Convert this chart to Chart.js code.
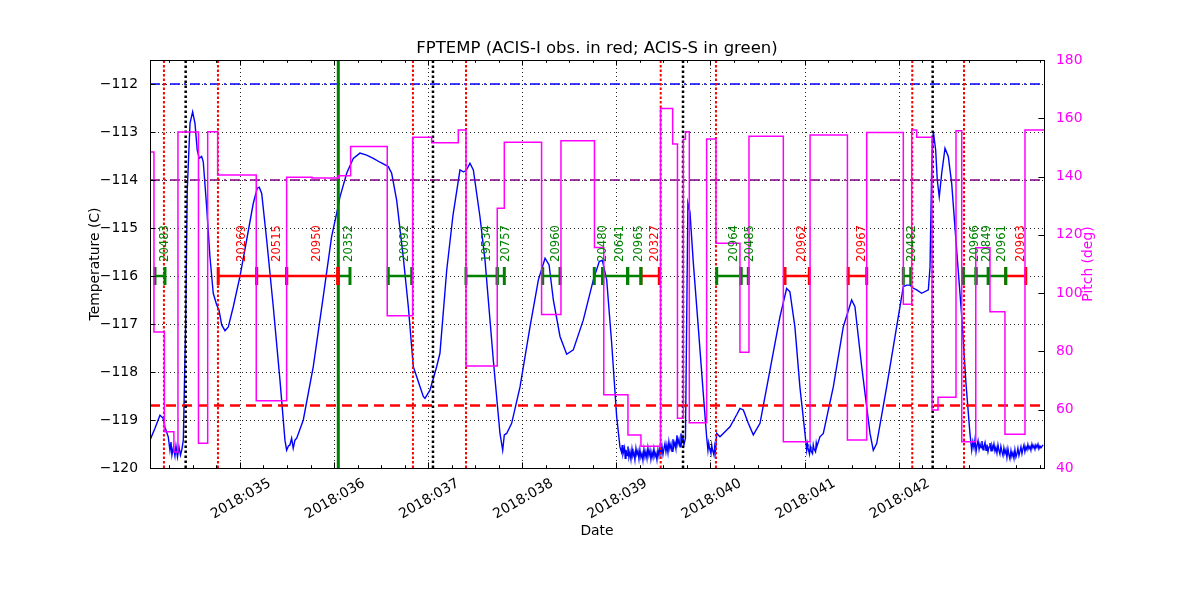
<!DOCTYPE html>
<html><head><meta charset="utf-8">
<script src="https://cdn.jsdelivr.net/npm/chart.js@4.4.1/dist/chart.umd.min.js"></script>
<style>html,body{margin:0;padding:0;background:#fff;}canvas{display:block;}</style>
</head><body>
<canvas id="c" width="1200" height="600"></canvas>
<script>
// ---------------- data ----------------
const yearLabel = '2018';
const dayTicks = [35, 36, 37, 38, 39, 40, 41, 42, 43];

// FPTEMP readings: [day of year, temperature C]
const tempReadings = [
[34.044,-119.42],[34.097,-119.17],[34.150,-118.90],[34.182,-118.96],[34.203,-119.15],[34.238,-119.35],
[34.256,-119.63],[34.267,-119.46],[34.277,-119.73],[34.293,-119.56],[34.309,-119.75],[34.320,-119.54],[34.336,-119.77],[34.352,-119.56],[34.368,-119.73],[34.384,-119.60],[34.398,-119.42],
[34.423,-116.98],[34.440,-114.21],[34.469,-112.82],[34.497,-112.58],[34.522,-112.82],[34.546,-113.38],[34.567,-113.55],[34.593,-113.51],[34.610,-113.62],[34.646,-114.56],[34.681,-115.60],[34.716,-116.36],[34.752,-116.60],[34.777,-116.71],[34.806,-117.02],[34.841,-117.14],[34.876,-117.06],[34.929,-116.64],[35.000,-116.01],[35.071,-115.25],[35.141,-114.49],[35.184,-114.17],[35.205,-114.15],[35.231,-114.28],[35.284,-115.25],[35.354,-116.64],[35.425,-118.17],[35.478,-119.42],[35.496,-119.63],[35.515,-119.54],[35.531,-119.52],[35.549,-119.38],[35.566,-119.59],[35.584,-119.42],[35.603,-119.38],[35.673,-119.00],[35.779,-117.89],[35.885,-116.43],[35.974,-115.18],[36.028,-114.69],[36.063,-114.35],[36.134,-113.86],[36.204,-113.55],[36.275,-113.44],[36.346,-113.48],[36.417,-113.55],[36.488,-113.63],[36.576,-113.72],[36.612,-113.86],[36.665,-114.42],[36.735,-115.60],[36.789,-116.64],[36.842,-117.89],[36.878,-118.10],[36.948,-118.51],[36.966,-118.55],[37.019,-118.38],[37.090,-117.89],[37.125,-117.61],[37.197,-115.88],[37.264,-114.73],[37.338,-113.79],[37.373,-113.83],[37.402,-113.81],[37.444,-113.65],[37.480,-113.79],[37.550,-114.76],[37.604,-115.67],[37.692,-117.75],[37.763,-119.28],[37.792,-119.63],[37.809,-119.31],[37.834,-119.28],[37.887,-119.07],[37.976,-118.31],[38.082,-117.06],[38.171,-116.08],[38.242,-115.63],[38.285,-115.77],[38.330,-116.50],[38.401,-117.26],[38.472,-117.63],[38.542,-117.54],[38.648,-116.92],[38.755,-116.08],[38.818,-115.70],[38.850,-115.67],[38.897,-116.08],[38.950,-117.40],[39.003,-118.93],[39.038,-119.56],
[39.054,-119.67],[39.062,-119.52],[39.070,-119.71],[39.086,-119.58],[39.094,-119.80],[39.102,-119.62],[39.113,-119.74],[39.123,-119.55],[39.133,-119.78],[39.144,-119.66],[39.155,-119.82],[39.166,-119.60],[39.176,-119.75],[39.187,-119.69],[39.197,-119.83],[39.208,-119.59],[39.218,-119.72],[39.229,-119.64],[39.240,-119.81],[39.250,-119.62],[39.261,-119.78],[39.272,-119.70],[39.282,-119.84],[39.293,-119.61],[39.304,-119.77],[39.314,-119.66],[39.325,-119.80],[39.335,-119.58],[39.346,-119.74],[39.357,-119.63],[39.367,-119.82],[39.378,-119.67],[39.389,-119.78],[39.399,-119.60],[39.410,-119.76],[39.420,-119.69],[39.431,-119.83],[39.442,-119.62],[39.452,-119.74],[39.463,-119.57],[39.473,-119.71],[39.484,-119.54],[39.495,-119.72],[39.505,-119.60],[39.516,-119.49],[39.527,-119.66],[39.537,-119.52],[39.548,-119.68],[39.558,-119.45],[39.569,-119.60],[39.580,-119.50],[39.591,-119.65],[39.601,-119.40],[39.612,-119.55],[39.622,-119.47],[39.633,-119.60],[39.644,-119.32],[39.654,-119.50],[39.665,-119.40],[39.676,-119.56],[39.686,-119.28],[39.697,-119.45],[39.707,-119.35],[39.718,-119.52],[39.734,-119.38],
[39.760,-114.48],[39.782,-114.67],[39.817,-115.71],[39.870,-117.06],[39.923,-118.44],[39.959,-119.35],
[39.973,-119.63],[39.981,-119.48],[39.989,-119.58],[40.005,-119.70],[40.013,-119.52],[40.021,-119.62],[40.037,-119.73],[40.045,-119.55],[40.053,-119.66],
[40.066,-119.28],[40.101,-119.35],[40.207,-119.14],[40.281,-118.88],[40.313,-118.76],[40.349,-118.79],[40.402,-119.07],[40.455,-119.31],[40.526,-119.07],[40.632,-117.96],[40.738,-116.85],[40.809,-116.26],[40.844,-116.33],[40.897,-117.06],[40.950,-118.31],[41.004,-119.28],
[41.022,-119.63],[41.030,-119.50],[41.036,-119.58],[41.052,-119.71],[41.060,-119.55],[41.068,-119.64],[41.084,-119.70],[41.092,-119.52],[41.100,-119.60],[41.116,-119.66],[41.124,-119.48],[41.131,-119.55],
[41.163,-119.35],[41.199,-119.28],[41.305,-118.31],[41.411,-117.06],[41.500,-116.50],[41.535,-116.64],[41.607,-117.89],[41.695,-119.28],[41.730,-119.63],[41.766,-119.49],[41.872,-118.31],[41.978,-117.06],[42.049,-116.22],[42.085,-116.19],[42.120,-116.19],[42.152,-116.25],[42.191,-116.29],[42.244,-116.36],[42.315,-116.29],[42.333,-115.81],[42.351,-113.72],[42.368,-112.99],[42.393,-113.38],[42.410,-114.00],[42.431,-114.35],[42.457,-113.86],[42.492,-113.34],[42.527,-113.51],[42.563,-114.07],[42.616,-115.46],[42.670,-116.85],[42.715,-118.24],[42.757,-119.28],
[42.776,-119.63],[42.788,-119.45],[42.800,-119.58],[42.811,-119.40],[42.822,-119.66],[42.833,-119.52],[42.843,-119.43],[42.854,-119.61],[42.864,-119.50],[42.875,-119.58],[42.885,-119.44],[42.896,-119.62],[42.906,-119.55],[42.917,-119.47],[42.928,-119.63],[42.938,-119.51],[42.949,-119.66],[42.960,-119.56],[42.970,-119.48],[42.981,-119.64],[42.991,-119.53],[43.002,-119.60],[43.012,-119.50],[43.023,-119.65],[43.033,-119.57],[43.044,-119.69],[43.055,-119.52],[43.065,-119.63],[43.076,-119.71],[43.086,-119.55],[43.097,-119.66],[43.108,-119.74],[43.118,-119.58],[43.129,-119.70],[43.140,-119.62],[43.150,-119.78],[43.161,-119.60],[43.172,-119.73],[43.182,-119.81],[43.193,-119.64],[43.203,-119.76],[43.214,-119.68],[43.225,-119.80],[43.235,-119.62],[43.246,-119.77],[43.257,-119.70],[43.267,-119.59],[43.278,-119.74],[43.288,-119.66],[43.299,-119.56],[43.310,-119.70],[43.320,-119.60],[43.331,-119.52],[43.341,-119.66],[43.352,-119.56],[43.363,-119.62],[43.373,-119.51],[43.384,-119.60],[43.395,-119.55],[43.405,-119.63],[43.416,-119.50],[43.427,-119.58],[43.437,-119.53],[43.448,-119.61],[43.458,-119.52],[43.469,-119.57],[43.480,-119.50],[43.490,-119.60],[43.501,-119.54],[43.512,-119.58],[43.533,-119.52]
];

// Pitch (deg), step changes: [day of year, pitch]
const pitchSteps = [
[34.044,148.4],[34.086,86.7],[34.197,52.4],[34.298,45.5],[34.341,155.3],[34.559,48.5],[34.657,155.4],[34.763,140.5],[35.173,63.1],[35.496,139.8],[35.766,139.5],[36.045,140.3],[36.176,150.3],[36.565,92.2],[36.835,153.5],[37.037,151.6],[37.320,156.0],[37.402,75.0],[37.734,129.1],[37.809,151.8],[38.205,92.7],[38.411,152.3],[38.767,115.7],[38.866,65.1],[39.123,51.3],[39.261,47.5],[39.469,163.4],[39.598,151.2],[39.649,57.1],[39.711,152.8],[39.734,155.4],[39.775,55.5],[39.959,152.9],[40.058,117.1],[40.313,79.7],[40.409,153.8],[40.774,49.0],[41.058,154.3],[41.455,49.6],[41.660,155.1],[42.049,96.2],[42.138,156.0],[42.191,153.5],[42.354,59.9],[42.418,64.3],[42.609,155.7],[42.670,49.0],[42.819,115.6],[42.970,93.6],[43.129,51.6],[43.342,156.0],[43.544,156.0]
];

// Observations
const obsIds   = ['20483','20269','20515','20950','20352','20092','19534','20757','20960','20480','20641','20965','20327','20964','20485','20962','20967','20482','20966','20849','20961','20963'];
const obsStart = [34.097,34.769,35.177,35.496,36.045,36.576,37.402,37.734,38.217,38.765,38.854,39.120,39.261,40.066,40.324,40.792,41.464,42.049,42.687,42.822,42.952,43.137];
const obsStop  = [34.203,35.177,35.496,36.038,36.169,36.825,37.734,37.809,38.401,38.854,39.120,39.261,39.456,40.324,40.402,41.050,41.660,42.128,42.822,42.952,43.137,43.350];
const obsInstr = ['S','I','I','I','S','S','S','S','S','S','S','S','I','S','S','I','I','S','S','S','S','I'];
const obsLevel = -116;

// reference lines
const redDottedDays   = [34.192, 34.766, 36.838, 37.402, 39.471, 40.058, 42.144, 42.694];
const blackDottedDays = [34.423, 37.051, 39.708, 42.361];
const greenSolidDays  = [36.045];
const limitBlue   = -112;
const limitPurple = -114;
const limitRed    = -118.7;

// axis ranges
const X_MIN = 34.044, X_MAX = 43.544;
const T_MIN = -120, T_MAX = -111.5;
const P_MIN = 40, P_MAX = 180;

// ---------------- chart ----------------
const FONT = 'DejaVu Sans';
const datasets = [];

// pitch: each value holds from its day until the next change
const pitchPoints = [];
pitchSteps.forEach(([d, p], i) => {
  if (i > 0) pitchPoints.push({x: d, y: pitchSteps[i - 1][1]});
  pitchPoints.push({x: d, y: p});
});
datasets.push({
  label: 'Pitch', yAxisID: 'y1', order: 0,
  data: pitchPoints,
  borderColor: '#ff00ff', borderWidth: 1.5, pointRadius: 0, fill: false, tension: 0
});

obsIds.forEach((id, i) => {
  const c = obsInstr[i] === 'I' ? '#ff0000' : '#008000';
  datasets.push({
    label: 'obs ' + id, yAxisID: 'y', order: 1,
    data: [{x: obsStart[i], y: obsLevel}, {x: obsStop[i], y: obsLevel}],
    borderColor: c, borderWidth: 2.5,
    pointStyle: 'line', pointRadius: 9, pointHoverRadius: 9, pointBorderWidth: 3,
    pointBorderColor: c, pointBackgroundColor: c, pointRotation: 90
  });
});

greenSolidDays.forEach(d => datasets.push({
  label: 'green', yAxisID: 'y', order: 2,
  data: [{x: d, y: T_MIN}, {x: d, y: T_MAX}],
  borderColor: '#008000', borderWidth: 3, pointRadius: 0
}));
redDottedDays.forEach(d => datasets.push({
  label: 'acisI', yAxisID: 'y', order: 3,
  data: [{x: d, y: T_MIN}, {x: d, y: T_MAX}],
  borderColor: '#ff0000', borderWidth: 2, borderDash: [2.5, 2], pointRadius: 0
}));
blackDottedDays.forEach(d => datasets.push({
  label: 'black', yAxisID: 'y', order: 3,
  data: [{x: d, y: T_MIN}, {x: d, y: T_MAX}],
  borderColor: '#000000', borderWidth: 2.5, borderDash: [2.5, 2.5], pointRadius: 0
}));

[[limitBlue, '#0000ff', [10, 4, 2, 4], 1.3], [limitPurple, '#800080', [10, 4, 2, 4], 1.3], [limitRed, '#ff0000', [10, 6], 2.5]]
  .forEach(([v, c, dash, w]) => datasets.push({
    label: 'limit', yAxisID: 'y', order: 4,
    data: [{x: X_MIN, y: v}, {x: X_MAX, y: v}],
    borderColor: c, borderWidth: w, borderDash: dash, pointRadius: 0
  }));

datasets.push({
  label: 'FPTEMP', yAxisID: 'y', order: 5,
  data: tempReadings.map(([d, t]) => ({x: d, y: t})),
  borderColor: '#0000ff', borderWidth: 1.4, pointRadius: 0, tension: 0
});

const intOnly = (axis) => { axis.ticks = axis.ticks.filter(t => Math.abs(t.value - Math.round(t.value)) < 1e-9); };

const mplPlugin = {
  id: 'mpl',
  beforeDatasetsDraw(chart) {
    const {ctx, chartArea: a, scales: {x, y}} = chart;
    ctx.save();
    ctx.strokeStyle = 'rgba(0,0,0,0.85)';
    ctx.lineWidth = 1;
    ctx.setLineDash([1, 3]);
    x.ticks.forEach(t => {
      const px = Math.round(x.getPixelForValue(t.value)) + 0.5;
      ctx.beginPath(); ctx.moveTo(px, a.top); ctx.lineTo(px, a.bottom); ctx.stroke();
    });
    y.ticks.forEach(t => {
      const py = Math.round(y.getPixelForValue(t.value)) + 0.5;
      ctx.beginPath(); ctx.moveTo(a.left, py); ctx.lineTo(a.right, py); ctx.stroke();
    });
    ctx.restore();
  },
  afterDatasetsDraw(chart) {
    const {ctx, chartArea: a, scales: {x, y, y1}} = chart;
    ctx.save();
    // observation labels
    ctx.font = '11.6px "' + FONT + '"';
    obsIds.forEach((id, i) => {
      const mid = (obsStart[i] + obsStop[i]) / 2;
      const px = x.getPixelForValue(mid) + 5;
      const py = y.getPixelForValue(obsLevel) - 14;
      ctx.save();
      ctx.translate(px, py);
      ctx.rotate(-Math.PI / 2);
      ctx.textAlign = 'left';
      ctx.textBaseline = 'middle';
      ctx.fillStyle = obsInstr[i] === 'I' ? '#ff0000' : '#008000';
      ctx.fillText(id, 0, 0);
      ctx.restore();
    });
    // frame
    ctx.setLineDash([]);
    ctx.strokeStyle = '#000';
    ctx.lineWidth = 1;
    ctx.strokeRect(Math.round(a.left) + 0.5, Math.round(a.top) + 0.5, Math.round(a.width), Math.round(a.height));
    // inward ticks
    const major = 5.6, minor = 2.8;
    ctx.beginPath();
    y.ticks.forEach(t => {
      const py = Math.round(y.getPixelForValue(t.value)) + 0.5;
      ctx.moveTo(a.left, py); ctx.lineTo(a.left + major, py);
    });
    y1.ticks.forEach(t => {
      const py = Math.round(y1.getPixelForValue(t.value)) + 0.5;
      ctx.moveTo(a.right, py); ctx.lineTo(a.right - major, py);
    });
    x.ticks.forEach(t => {
      const px = Math.round(x.getPixelForValue(t.value)) + 0.5;
      ctx.moveTo(px, a.bottom); ctx.lineTo(px, a.bottom - major);
      ctx.moveTo(px, a.top); ctx.lineTo(px, a.top + major);
    });
    for (let q = Math.ceil(X_MIN * 4); q <= Math.floor(X_MAX * 4); q++) {
      if (q % 4 === 0) continue;
      const px = Math.round(x.getPixelForValue(q / 4)) + 0.5;
      ctx.moveTo(px, a.bottom); ctx.lineTo(px, a.bottom - minor);
      ctx.moveTo(px, a.top); ctx.lineTo(px, a.top + minor);
    }
    ctx.stroke();
    // rotated date tick labels
    ctx.font = '13.9px "' + FONT + '"';
    ctx.fillStyle = '#000';
    ctx.textAlign = 'center';
    ctx.textBaseline = 'middle';
    x.ticks.forEach(t => {
      const px = x.getPixelForValue(t.value);
      ctx.save();
      ctx.translate(px + 1, a.bottom + 31);
      ctx.rotate(-Math.PI / 6);
      ctx.fillText(yearLabel + ':' + String(t.value).padStart(3, '0'), 0, 0);
      ctx.restore();
    });
    // right axis title (reads bottom to top)
    ctx.fillStyle = '#ff00ff';
    ctx.save();
    ctx.translate(a.right + 44, (a.top + a.bottom) / 2);
    ctx.rotate(-Math.PI / 2);
    ctx.fillText('Pitch (deg)', 0, 0);
    ctx.restore();
    ctx.restore();
  }
};

new Chart(document.getElementById('c'), {
  type: 'line',
  data: {datasets},
  plugins: [mplPlugin],
  options: {
    responsive: false, animation: false, events: [], devicePixelRatio: 1,
    layout: {padding: {left: 83, right: 103, top: 0, bottom: 56}},
    plugins: {
      legend: {display: false}, tooltip: {enabled: false},
      title: {
        display: true, text: 'FPTEMP (ACIS-I obs. in red; ACIS-S in green)',
        fullSize: false, color: '#000',
        font: {family: FONT, size: 16.5, weight: 'normal'},
        padding: {top: 38.5, bottom: 1.7}
      }
    },
    scales: {
      x: {
        type: 'linear', position: 'bottom', min: X_MIN, max: X_MAX,
        afterBuildTicks: intOnly,
        afterFit: s => { s.height = 76; },
        ticks: {display: false, stepSize: 1},
        grid: {display: false}, border: {display: false},
        title: {display: true, text: 'Date', color: '#000', font: {family: FONT, size: 13.9}}
      },
      y: {
        type: 'linear', position: 'left', min: T_MIN, max: T_MAX,
        afterBuildTicks: intOnly,
        afterFit: s => { s.width = 67; },
        ticks: {stepSize: 1, color: '#000', padding: 4, font: {family: FONT, size: 13.9},
          callback: v => String(v).replace('-', '\u2212')},
        grid: {display: false}, border: {display: false},
        title: {display: true, text: 'Temperature (C)', color: '#000', font: {family: FONT, size: 13.9}}
      },
      y1: {
        type: 'linear', position: 'right', min: P_MIN, max: P_MAX,
        afterFit: s => { s.width = 53; },
        ticks: {stepSize: 20, color: '#ff00ff', padding: 4, font: {family: FONT, size: 13.9}},
        grid: {display: false}, border: {display: false},
        title: {display: false}
      }
    }
  }
});
</script>
</body></html>
